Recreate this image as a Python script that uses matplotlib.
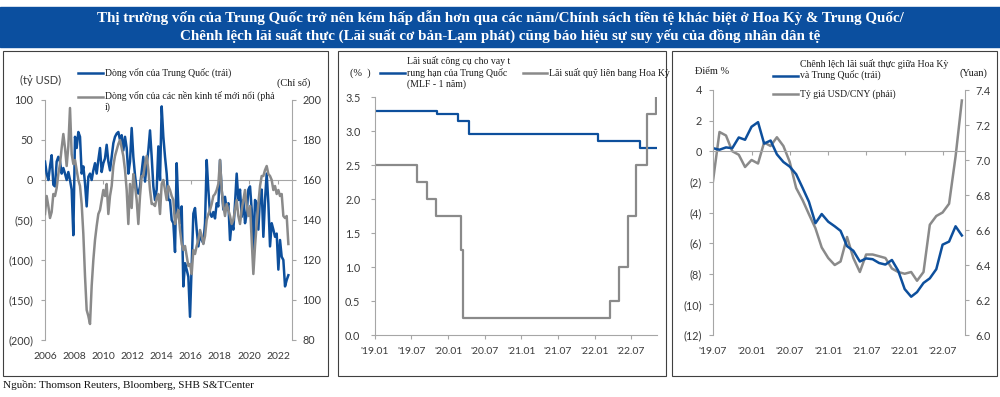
import numpy as np
import pandas as pd
import matplotlib
matplotlib.use("Agg")
from matplotlib import pyplot as plt
from matplotlib import dates as mdates
from matplotlib import ticker
from matplotlib.lines import Line2D
from matplotlib.patches import Rectangle

plt.rcParams['font.family'] = ['Lato', 'DejaVu Sans']

BLUE = "#0d4f9c"
GRAY = "#8a8a8a"
AXIS = "#a6a6a6"
TXT = "#3a3a3a"
LEG = "#1a1a1a"
BANNER = "#0b4f9f"
SERIF = ["Liberation Serif", "DejaVu Serif"]

# --- panel 1: capital flows, 2006 - 2022 ---
cn_flow = [23, 8, 0, 17, 31, -6, -8, 23, 29, 23,
           8, 15, 8, 0, 10, 0, -12, -69, 54, 40,
           60, 54, 8, 17, -4, -33, 4, 8, 0, 12,
           21, 8, 25, 40, 10, 21, 27, 44, 23, 12,
           29, 46, 54, 58, 60, 50, 56, 37, 54, 40,
           8, 23, 65, 29, 6, -12, -17, -8, 10, 29,
           -2, 19, 37, 62, 29, -8, -25, -12, 42, 0,
           92, 54, 29, 8, -25,
           -25, -50, -54, -90, 21, -33, -54, -33, -133, -104,
           -112, -121, -171, -108, -42, -35, -62, -83, -67, -75,
           -79, -54, 25, -12, -42, -46, -40, -48, -29, -33,
           25, -12, -37, -21, -37, -29, -75, -52, -62, -29,
           8, -25, -12, -46, -25, -54, -42, -12, -8, -37,
           -87, -25, -29, -62, -21, -12, -71, -25, 8, -29,
           -83, -54, -62, -71, -67, -112, -75, -96, -100, -133,
           -125, -119]
em_flow = [143, 152, 147, 141, 144, 153, 152, 156, 163, 168,
           176, 183, 176, 167, 177, 196, 173, 168, 170, 165,
           160, 157, 148, 133, 112, 95, 92, 88, 107, 120,
           130, 137, 143, 145, 150, 155, 152, 158, 143, 152,
           157, 167, 172, 175, 178, 180, 176, 172, 165, 155,
           138, 158, 146, 163, 157, 150, 138, 152, 162, 162,
           168, 172, 165, 155, 148, 148, 147, 151, 153, 143,
           158, 160, 155, 150, 157,
           155, 152, 150, 138, 142, 145, 135, 128, 125, 127,
           122, 117, 118, 113, 125, 123, 127, 130, 135, 132,
           128, 132, 140, 143, 145, 148, 152, 153, 155, 158,
           170, 155, 147, 142, 148, 145, 142, 138, 140, 145,
           150, 142, 138, 145, 150, 155, 147, 142, 147, 130,
           113, 127, 138, 148, 157, 162, 162, 165, 167, 163,
           162, 160, 155, 157, 153, 155, 152, 153, 142, 141,
           142, 128]
flow_years = np.linspace(2006.0, 2022.71, len(cn_flow))
year_ticks = list(range(2006, 2023, 2))

# --- panel 2: policy rates ---
mlf_dates = ['2019-01-01', '2019-11-05', '2020-02-17', '2020-04-15',
             '2022-01-17', '2022-08-15', '2022-11-07']
mlf_rates = [3.30, 3.25, 3.15, 2.95, 2.85, 2.75, 2.75]
fed_dates = ['2019-01-01', '2019-08-01', '2019-09-19', '2019-10-31',
             '2020-03-04', '2020-03-16', '2022-03-17', '2022-05-05',
             '2022-06-16', '2022-07-28', '2022-09-22', '2022-11-03',
             '2022-11-07']
fed_rates = [2.50, 2.25, 2.00, 1.75, 1.25, 0.25, 0.50, 1.00, 1.75, 2.50,
             3.25, 4.00, 4.00]

# --- panel 3: real rate spread and USD/CNY, Jul 2019 - Oct 2022 ---
spread_months = pd.date_range('2019-07-01', periods=40, freq='MS')
real_spread = [0.2, 0.1, 0.25, 0.2, 0.9, 0.75, 1.6, 1.9, 0.5, 0.7,
               -0.2, -0.7, -1.0, -1.5, -2.4, -3.3, -4.7, -4.1, -4.6, -4.9,
               -5.2, -6.2, -6.5, -7.2, -7.0, -7.05, -7.3, -7.4, -7.1, -7.8,
               -9.0, -9.5, -9.2, -8.6, -8.3, -7.7, -6.1, -5.9, -4.9, -5.5]
usdcny = [6.88, 7.16, 7.14, 7.05, 7.03, 6.96, 7.00, 6.98, 7.10, 7.08,
          7.13, 7.08, 6.99, 6.84, 6.77, 6.69, 6.61, 6.50, 6.44, 6.40,
          6.42, 6.56, 6.44, 6.36, 6.46, 6.46, 6.45, 6.44, 6.38, 6.36,
          6.35, 6.36, 6.31, 6.36, 6.63, 6.68, 6.70, 6.75, 7.02, 7.34]


def fx(px):
    return px / 1000.0


def fy(py):
    return 1 - py / 397.0


def paren(v, pos):
    v = int(round(v))
    return "({})".format(-v) if v < 0 else str(v)


def style_y(ax, side, pad):
    ax.tick_params(axis='y', direction='out', length=3, width=0.8, color=AXIS,
                   labelsize=7.8, labelcolor=TXT, pad=pad)
    for s in ax.spines:
        ax.spines[s].set_visible(False)
    ax.spines[side].set_visible(True)
    ax.spines[side].set_color(AXIS)
    ax.spines[side].set_linewidth(0.8)


def zero_line(ax, frac, ticks):
    sec = ax.secondary_xaxis(frac)
    sec.set_alignment('bottom')
    sec.set_xticks(ticks)
    sec.tick_params(axis='x', direction='out', length=3, width=0.8, color=AXIS,
                    labelbottom=False, labeltop=False)
    sec.spines['bottom'].set_color(AXIS)
    sec.spines['bottom'].set_linewidth(0.8)
    return sec


fig = plt.figure(figsize=(10, 3.97), dpi=100)

# banner and frames
fig.patches.append(Rectangle((0, fy(47)), 1, 40 / 397.0, transform=fig.transFigure,
                             color=BANNER, zorder=0))
for x0, x1 in [(3, 328), (338, 666), (672, 997)]:
    fig.patches.append(Rectangle((fx(x0), fy(376)), fx(x1 - x0), (376 - 51) / 397.0,
                                 transform=fig.transFigure, fill=False,
                                 ec="#404040", lw=0.8))

fig.text(0.5, fy(17.5), "Thị trường vốn của Trung Quốc trở nên kém hấp dẫn hơn qua các năm/"
         "Chính sách tiền tệ khác biệt ở Hoa Kỳ & Trung Quốc/",
         ha='center', va='center', color='white', fontsize=10.8, fontweight='bold',
         family=SERIF)
fig.text(0.5, fy(36), "Chênh lệch lãi suất thực (Lãi suất cơ bản-Lạm phát) cũng báo hiệu "
         "sự suy yếu của đồng nhân dân tệ",
         ha='center', va='center', color='white', fontsize=10.8, fontweight='bold',
         family=SERIF)
fig.text(fx(3), fy(385), "Nguồn: Thomson Reuters, Bloomberg, SHB S&TCenter",
         ha='left', va='center', fontsize=8, family=SERIF, color='#111111')

# ---------------- panel 1 ----------------
axL = fig.add_axes([fx(45), fy(340), fx(292 - 45), 240 / 397.0])
axL.plot(flow_years, cn_flow, color=BLUE, lw=1.8, zorder=3)
axL.set_xlim(2006, 2022.96)
axL.set_ylim(-200, 100)
axL.set_yticks(range(-200, 101, 50))
axL.yaxis.set_major_formatter(ticker.FuncFormatter(paren))
axL.set_xticks(year_ticks)
axL.tick_params(axis='x', length=0, labelsize=7.5, labelcolor=TXT, pad=8.4)
style_y(axL, 'left', 5.5)
axL.patch.set_visible(False)
zero_line(axL, 200 / 300.0, year_ticks)

axL2 = axL.twinx()
axL2.plot(flow_years, em_flow, color=GRAY, lw=1.8)
axL2.set_ylim(80, 200)
axL2.set_yticks(range(80, 201, 20))
style_y(axL2, 'right', 4.5)

fig.text(fx(20), fy(80), "(tỷ USD)", ha='left', va='center', fontsize=8, color=TXT)
fig.text(fx(277), fy(83), "(Chỉ số)", ha='left', va='center', fontsize=7.5,
         family=SERIF, color=LEG)
fig.add_artist(Line2D([fx(78), fx(103)], [fy(73), fy(73)], color=BLUE, lw=1.8,
                      transform=fig.transFigure))
fig.text(fx(105), fy(73), "Dòng vốn của Trung Quốc (trái)", ha='left', va='center',
         fontsize=7, family=SERIF, color=LEG)
fig.add_artist(Line2D([fx(78), fx(103)], [fy(97), fy(97)], color=GRAY, lw=1.8,
                      transform=fig.transFigure))
fig.text(fx(105), fy(91), "Dòng vốn của các nền kinh tế mới nổi (phả\ni)", ha='left',
         va='top', fontsize=7, family=SERIF, color=LEG, linespacing=1.2)

# ---------------- panel 2 ----------------
axM = fig.add_axes([fx(375), fy(335), fx(657 - 375), 238 / 397.0])
axM.plot(pd.to_datetime(mlf_dates), mlf_rates, drawstyle='steps-post', color=BLUE, lw=1.6)
axM.plot(pd.to_datetime(fed_dates), fed_rates, drawstyle='steps-post', color=GRAY, lw=1.6)
axM.set_xlim(pd.Timestamp('2019-01-01'), pd.Timestamp('2022-11-09'))
axM.set_ylim(0, 3.5)
axM.set_yticks(np.arange(0, 3.51, 0.5))
axM.yaxis.set_major_formatter(ticker.FormatStrFormatter('%.1f'))
axM.set_xticks(pd.date_range('2019-01-01', '2022-07-01', freq='6MS'))
axM.xaxis.set_major_formatter(mdates.DateFormatter("'%y.%m"))
style_y(axM, 'left', 7.5)
axM.spines['bottom'].set_visible(True)
axM.spines['bottom'].set_color(AXIS)
axM.spines['bottom'].set_linewidth(0.8)
axM.tick_params(axis='x', direction='out', length=3, width=0.8, color=AXIS,
                labelsize=7.5, labelcolor=TXT, pad=5.4)

fig.text(fx(350), fy(73), "(%  )", ha='left', va='center', fontsize=7.5,
         family=SERIF, color=LEG)
fig.add_artist(Line2D([fx(380), fx(405)], [fy(73), fy(73)], color=BLUE, lw=1.8,
                      transform=fig.transFigure))
fig.text(fx(407), fy(72.5), "Lãi suất công cụ cho vay t\nrung hạn của Trung Quốc\n(MLF - 1 năm)",
         ha='left', va='center', fontsize=7, family=SERIF, color=LEG, linespacing=1.2)
fig.add_artist(Line2D([fx(523), fx(547)], [fy(73), fy(73)], color=GRAY, lw=1.8,
                      transform=fig.transFigure))
fig.text(fx(549), fy(73), "Lãi suất quỹ liên bang Hoa Kỳ", ha='left', va='center',
         fontsize=7, family=SERIF, color=LEG)

# ---------------- panel 3 ----------------
axR = fig.add_axes([fx(713), fy(335), fx(965 - 713), 245 / 397.0])
axR.plot(spread_months, real_spread, color=BLUE, lw=1.8)
axR.set_xlim(pd.Timestamp('2019-07-01'), pd.Timestamp('2022-10-16'))
axR.set_ylim(-12, 4)
axR.set_yticks(range(-12, 5, 2))
axR.yaxis.set_major_formatter(ticker.FuncFormatter(paren))
half_years = pd.date_range('2019-07-01', '2022-07-01', freq='6MS')
axR.set_xticks(half_years)
axR.xaxis.set_major_formatter(mdates.DateFormatter("'%y.%m"))
axR.tick_params(axis='x', length=0, labelsize=7.5, labelcolor=TXT, pad=8.4)
style_y(axR, 'left', 5)
zero_line(axR, 12 / 16.0, mdates.date2num(half_years))

axR2 = axR.twinx()
axR2.plot(spread_months, usdcny, color=GRAY, lw=1.8)
axR2.set_ylim(6.0, 7.4)
axR2.set_yticks(np.arange(6.0, 7.41, 0.2))
axR2.yaxis.set_major_formatter(ticker.FormatStrFormatter('%.1f'))
style_y(axR2, 'right', 4.5)
axR.set_zorder(axR2.get_zorder() + 1)
axR.patch.set_visible(False)

fig.text(fx(695), fy(72), "Điểm %", ha='left', va='center', fontsize=7.5,
         family=SERIF, color=LEG)
fig.text(fx(960), fy(73), "(Yuan)", ha='left', va='center', fontsize=7.5,
         family=SERIF, color=LEG)
fig.add_artist(Line2D([fx(773), fx(798)], [fy(75.5), fy(75.5)], color=BLUE, lw=1.8,
                      transform=fig.transFigure))
fig.text(fx(800), fy(69.5), "Chênh lệch lãi suất thực giữa Hoa Kỳ\nvà Trung Quốc (trái)",
         ha='left', va='center', fontsize=7, family=SERIF, color=LEG, linespacing=1.2)
fig.add_artist(Line2D([fx(773), fx(798)], [fy(94), fy(94)], color=GRAY, lw=1.8,
                      transform=fig.transFigure))
fig.text(fx(800), fy(94), "Tỷ giá USD/CNY (phải)", ha='left', va='center',
         fontsize=7, family=SERIF, color=LEG)

fig.savefig("out.png", dpi=100)
